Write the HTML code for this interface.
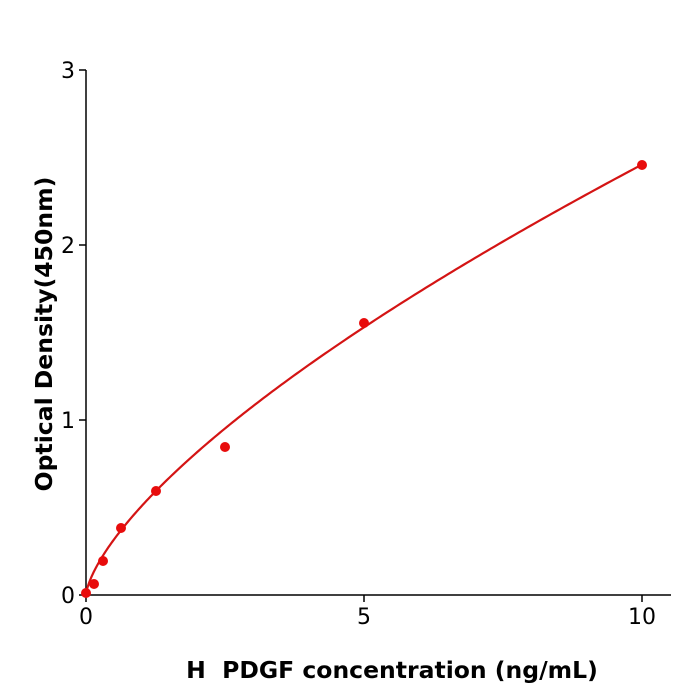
<!DOCTYPE html>
<html><head><style>body{margin:0;background:#fff}svg{display:block}</style></head>
<body>
<svg id="s" width="700" height="700" xmlns="http://www.w3.org/2000/svg" font-family="DejaVu Sans, sans-serif">
<g stroke="#000" stroke-width="1.5" fill="none">
<line x1="86" y1="595" x2="671" y2="595"/>
<line x1="86" y1="70" x2="86" y2="595"/>
<line x1="86" y1="595" x2="86" y2="602"/>
<line x1="364" y1="595" x2="364" y2="602"/>
<line x1="642" y1="595" x2="642" y2="602"/>
<line x1="79" y1="595" x2="86" y2="595"/>
<line x1="79" y1="420" x2="86" y2="420"/>
<line x1="79" y1="245" x2="86" y2="245"/>
<line x1="79" y1="70" x2="86" y2="70"/>
</g>
<g font-size="22" fill="#000">
<text x="86" y="624" text-anchor="middle">0</text>
<text x="364" y="624" text-anchor="middle">5</text>
<text x="642" y="624" text-anchor="middle">10</text>
<text x="75" y="603" text-anchor="end">0</text>
<text x="75" y="428" text-anchor="end">1</text>
<text x="75" y="253" text-anchor="end">2</text>
<text x="75" y="78" text-anchor="end">3</text>
</g>
<text x="392" y="678" text-anchor="middle" font-size="23.5" font-weight="bold">H&#160; PDGF concentration (ng/mL)</text>
<text transform="translate(52,334) rotate(-90)" text-anchor="middle" font-size="23.5" font-weight="bold">Optical Density(450nm)</text>
<path id="c" fill="none" stroke="#d41414" stroke-width="2.2"/>
<g fill="#e80c0c">
<circle cx="86" cy="593" r="5"/>
<circle cx="94" cy="584" r="5"/>
<circle cx="103" cy="561" r="5"/>
<circle cx="121" cy="528" r="5"/>
<circle cx="156" cy="491" r="5"/>
<circle cx="225" cy="447" r="5"/>
<circle cx="364" cy="323" r="5"/>
<circle cx="642" cy="165" r="5"/>
</g>
<script>
var d="";for(var i=0;i<=200;i++){var x=10*Math.pow(i/200,1.6);var y=0.508*Math.pow(x,0.685);d+=(i?"L":"M")+(86+55.6*x).toFixed(2)+","+(595-175*y).toFixed(2);}
document.getElementById("c").setAttribute("d",d);
</script>
</svg>
</body></html>
